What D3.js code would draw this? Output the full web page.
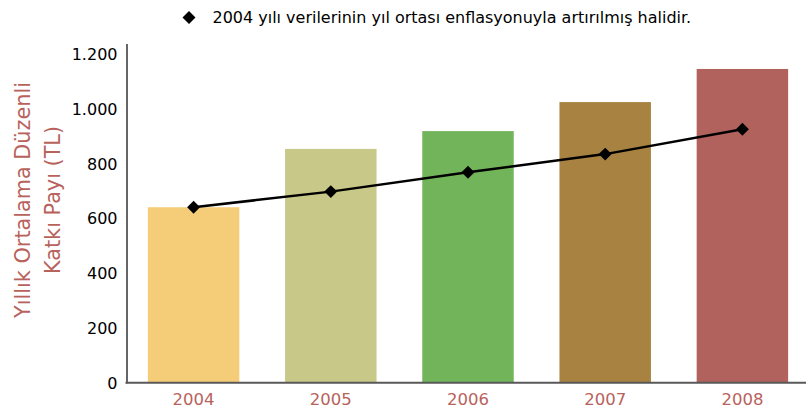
<!DOCTYPE html>
<html lang="tr">
<head>
<meta charset="utf-8">
<script src="https://cdn.jsdelivr.net/npm/d3@7"></script>
<style>
  html, body { margin: 0; padding: 0; background: #fff; }
  svg { display: block; font-family: "DejaVu Sans", Verdana, sans-serif; }
</style>
</head>
<body>
<svg id="chart" width="806" height="413"></svg>
<script>
// Yıllık ortalama düzenli katkı payı (TL)
const years = ["2004", "2005", "2006", "2007", "2008"];
const payments = [642, 855, 920, 1026, 1147];
// 2004 değerinin yıl ortası enflasyonuyla güncellenmiş hali
const adjusted2004 = [642, 699, 770, 836, 927];
const barColors = ["#f5cd78", "#c8c888", "#72b45a", "#a88240", "#b1625d"];
const yTicks = [0, 200, 400, 600, 800, 1000, 1200];
const legendText = "2004 yılı verilerinin yıl ortası enflasyonuyla artırılmış halidir.";
const yTitleLines = ["Yıllık Ortalama Düzenli", "Katkı Payı (TL)"];

const svg = d3.select("#chart");
const W = 806;
const accent = "#b8625c";
const fontStack = "'DejaVu Sans', Verdana, sans-serif";

const tr = d3.formatLocale({ decimal: ",", thousands: ".", grouping: [3], currency: ["", " TL"] });
const fmt = tr.format(",");

const x = d3.scaleBand().domain(years).range([125, 811]).paddingInner(1 / 3).paddingOuter(1 / 6);
const y = d3.scaleLinear().domain([0, 1240]).range([383, 43.5]);

// bars
svg.append("g").selectAll("rect")
  .data(years.map((yr, i) => ({ yr, v: payments[i], c: barColors[i] })))
  .join("rect")
  .attr("x", d => x(d.yr))
  .attr("width", x.bandwidth())
  .attr("y", d => y(d.v))
  .attr("height", d => y(0) - y(d.v))
  .attr("fill", d => d.c);

// axes
const yAxis = svg.append("g")
  .attr("transform", "translate(126.5,0)")
  .call(d3.axisLeft(y).tickValues(yTicks).tickFormat(fmt).tickSize(0).tickPadding(9));
yAxis.select(".domain").attr("stroke", "#666").attr("stroke-width", 2);
yAxis.selectAll("text").attr("font-size", 16).attr("fill", "#000").attr("font-family", fontStack);

const xAxis = svg.append("g")
  .attr("transform", "translate(0,382.7)")
  .call(d3.axisBottom(x).tickSize(0).tickPadding(11));
xAxis.select(".domain").attr("d", `M125.5,0H${W}`).attr("stroke", "#595959").attr("stroke-width", 2);
xAxis.selectAll("text").attr("font-size", 16.5).attr("fill", accent).attr("font-family", fontStack);

// inflation-adjusted line with diamond markers
const pts = years.map((yr, i) => [x(yr) + x.bandwidth() / 2, y(adjusted2004[i])]);
svg.append("path")
  .attr("d", d3.line()(pts))
  .attr("fill", "none")
  .attr("stroke", "#000")
  .attr("stroke-width", 2.5);

const diamond = d3.symbol().type(d3.symbolSquare).size(84);
svg.append("g").selectAll("path")
  .data(pts)
  .join("path")
  .attr("d", diamond)
  .attr("transform", d => `translate(${d[0]},${d[1]}) rotate(45)`)
  .attr("fill", "#000");

// legend
svg.append("path")
  .attr("d", diamond)
  .attr("transform", "translate(189,17.5) rotate(45)")
  .attr("fill", "#000");
const leg = svg.append("text")
  .attr("x", 212.5).attr("y", 23)
  .attr("font-size", 15)
  .attr("fill", "#000")
  .text(legendText);
leg.attr("font-size", 15 * 479 / leg.node().getComputedTextLength());

// y-axis title: two rotated lines sharing one font size
const title = svg.append("g").attr("transform", "translate(0,200) rotate(-90)");
const titleY = [29.5, 59.5];
const titleTexts = yTitleLines.map((line, i) => title.append("text")
  .attr("x", 0).attr("y", titleY[i])
  .attr("text-anchor", "middle")
  .attr("font-size", 22)
  .attr("fill", accent)
  .text(line));
const titleSize = 22 * 236 / titleTexts[0].node().getComputedTextLength();
titleTexts.forEach(t => t.attr("font-size", titleSize));
</script>
</body>
</html>
